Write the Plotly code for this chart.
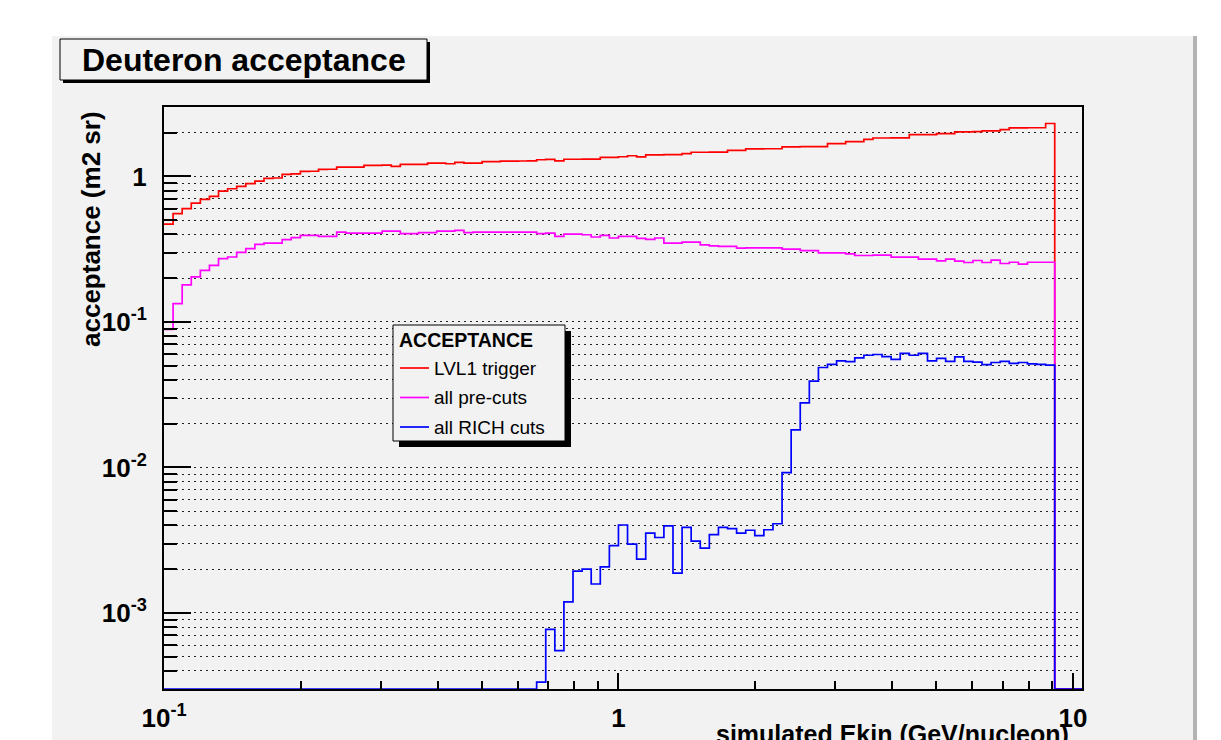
import numpy as np
import plotly.graph_objects as go

# histogram binning: 50 log bins per decade starting at 0.1 GeV/nucleon
E_START = 0.1
BINS_PER_DECADE = 50

lvl1_trigger = [
    0.47, 0.555, 0.60, 0.656, 0.695, 0.729, 0.793, 0.823, 0.854, 0.891,
    0.928, 0.969, 0.975, 1.032, 1.04, 1.082, 1.085, 1.117, 1.12, 1.158,
    1.16, 1.16, 1.19, 1.19, 1.195, 1.171, 1.209, 1.21, 1.21, 1.234,
    1.234, 1.222, 1.248, 1.234, 1.234, 1.262, 1.262, 1.274, 1.274, 1.276,
    1.278, 1.302, 1.308, 1.278, 1.312, 1.312, 1.315, 1.315, 1.35, 1.35,
    1.365, 1.387, 1.361, 1.405, 1.405, 1.41, 1.41, 1.434, 1.466, 1.466,
    1.47, 1.47, 1.508, 1.508, 1.544, 1.544, 1.55, 1.55, 1.594, 1.594,
    1.6, 1.6, 1.6, 1.679, 1.68, 1.734, 1.734, 1.80, 1.837, 1.837,
    1.84, 1.84, 1.939, 1.94, 1.94, 1.97, 1.97, 2.024, 2.024, 2.03,
    2.056, 2.056, 2.099, 2.156, 2.156, 2.16, 2.16, 2.311,
    0, 0, 0, 0,
]

all_precuts = [
    0.0887, 0.1337, 0.180, 0.2037, 0.2263, 0.2449, 0.2723, 0.2793, 0.301, 0.319,
    0.3414, 0.3485, 0.3485, 0.3676, 0.3795, 0.3937, 0.3937, 0.3875, 0.3875, 0.4147,
    0.4082, 0.4082, 0.4082, 0.4082, 0.4213, 0.4213, 0.4044, 0.4044, 0.4108, 0.4108,
    0.4213, 0.4213, 0.426, 0.4108, 0.4147, 0.4147, 0.4147, 0.4147, 0.4147, 0.4147,
    0.4147, 0.4044, 0.4082, 0.3869, 0.4018, 0.4018, 0.3973, 0.3833, 0.3937, 0.3773,
    0.3869, 0.3869, 0.3749, 0.3690, 0.3773, 0.3479, 0.3479, 0.3535, 0.3535, 0.3388,
    0.3334, 0.3303, 0.3303, 0.3215, 0.3230, 0.3230, 0.3230, 0.3230, 0.3164, 0.3164,
    0.3095, 0.3095, 0.2985, 0.2985, 0.2985, 0.2938, 0.2860, 0.2860, 0.2874, 0.2874,
    0.2784, 0.2784, 0.2784, 0.2698, 0.2698, 0.2627, 0.2698, 0.2614, 0.2561, 0.2643,
    0.2561, 0.2656, 0.2521, 0.2572, 0.2493, 0.2572, 0.2572, 0.2572,
    0, 0, 0, 0,
]

all_rich_cuts = [0] * 41 + [
    3.35e-4, 7.7e-4, 5.5e-4, 1.19e-3, 1.94e-3, 2.0e-3, 1.58e-3, 2.07e-3, 2.9e-3,
    4.02e-3, 2.97e-3, 2.34e-3, 3.53e-3, 3.3e-3, 3.97e-3, 1.88e-3, 3.87e-3, 3.11e-3, 2.79e-3,
    3.45e-3, 3.87e-3, 3.8e-3, 3.53e-3, 3.7e-3, 3.4e-3, 3.73e-3, 4.1e-3, 9.2e-3, 0.0181,
    0.0278, 0.0392, 0.0486, 0.051, 0.054, 0.0533, 0.0566, 0.059, 0.0597, 0.0578,
    0.0553, 0.0607, 0.059, 0.0607, 0.054, 0.0561, 0.0535, 0.0575, 0.0535, 0.053,
    0.0508, 0.0526, 0.0535, 0.0519, 0.0526, 0.0515, 0.051, 0.0505,
    0, 0, 0, 0,
]

series_names = ["LVL1 trigger", "all pre-cuts", "all RICH cuts"]
series_colors = ["#ff0000", "#ff00ff", "#0000ff"]

y_major = [1e-3, 1e-2, 1e-1, 1]
y_major_text = ["10<sup>-3</sup>", "10<sup>-2</sup>", "10<sup>-1</sup>", "1"]
x_major = [0.1, 1, 10]
x_major_text = ["10<sup>-1</sup>", "1", "10"]

Y_RANGE = [np.log10(3e-4), np.log10(3.0)]
X_RANGE = [-1.0, 1.02]

# the page body adds an 8px margin, so work in screen pixels and shift
OFF = 8
W, H = 1221 - OFF, 740 - OFF
# plot area in screen pixels
L, R, T, B = 164, 1082, 107, 689


def px(x):
    return (x - L) / (R - L)


def py(y):
    return (B - y) / (B - T)


nbins = len(lvl1_trigger)
edges = E_START * 10 ** (np.arange(nbins + 1) / BINS_PER_DECADE)
floor = 10 ** Y_RANGE[0]

fig = go.Figure()
for name, vals, col in zip(series_names, [lvl1_trigger, all_precuts, all_rich_cuts], series_colors):
    v = np.maximum(np.array(vals, dtype=float), floor)
    fig.add_trace(go.Scatter(
        x=edges,
        y=np.append(v, v[-1]),
        mode="lines",
        line=dict(color=col, width=1.7, shape="hv"),
        name=name,
        showlegend=False,
    ))

minor_y = [m * 10.0 ** e for e in range(-4, 1) for m in range(2, 10)]
minor_x = [m * 10.0 ** e for e in range(-1, 2) for m in range(2, 10)]

PAD = "#f2f2f2"
FONT = "Liberation Sans, Arial, sans-serif"

fig.update_layout(
    width=W,
    height=H,
    margin=dict(l=L - OFF, r=1221 - R, t=T - OFF, b=740 - B),
    paper_bgcolor="white",
    plot_bgcolor=PAD,
    font=dict(family=FONT, color="black"),
    showlegend=False,
    xaxis=dict(
        type="log",
        range=X_RANGE,
        automargin=False,
        showgrid=False,
        zeroline=False,
        showline=True,
        linecolor="black",
        linewidth=2,
        mirror=True,
        ticks="inside",
        ticklen=16,
        tickwidth=1.5,
        tickcolor="black",
        tickvals=x_major,
        ticktext=x_major_text,
        tickfont=dict(family=FONT, size=26, weight="bold", color="black"),
        ticklabelstandoff=5,
        minor=dict(tickvals=minor_x, ticks="inside", ticklen=8, tickwidth=1.5,
                   tickcolor="black", showgrid=False),
    ),
    yaxis=dict(
        type="log",
        range=Y_RANGE,
        automargin=False,
        showgrid=True,
        gridcolor="#222222",
        gridwidth=1,
        griddash="2px,4px",
        zeroline=False,
        showline=True,
        linecolor="black",
        linewidth=2,
        mirror=True,
        ticks="inside",
        ticklen=27,
        tickwidth=1.5,
        tickcolor="black",
        tickvals=y_major,
        ticktext=y_major_text,
        tickfont=dict(family=FONT, size=26, weight="bold", color="black"),
        ticklabelstandoff=10,
        minor=dict(tickvals=minor_y, ticks="inside", ticklen=13, tickwidth=1.5,
                   tickcolor="black", showgrid=True, gridcolor="#222222",
                   gridwidth=1, griddash="2px,4px"),
    ),
)

shapes = [
    # canvas pad
    dict(type="rect", xref="paper", yref="paper", x0=px(52), x1=px(1193), y0=py(36), y1=py(760),
         fillcolor=PAD, line=dict(width=0), layer="below"),
    dict(type="rect", xref="paper", yref="paper", x0=px(1193), x1=px(1197), y0=py(36), y1=py(760),
         fillcolor="#b4b4b4", line=dict(width=0), layer="below"),
    # title box
    dict(type="rect", xref="paper", yref="paper", x0=px(63), x1=px(430), y0=py(42), y1=py(83),
         fillcolor="black", line=dict(width=0), layer="above"),
    dict(type="rect", xref="paper", yref="paper", x0=px(60), x1=px(427), y0=py(39), y1=py(80),
         fillcolor=PAD, line=dict(color="black", width=1), layer="above"),
    # legend box
    dict(type="rect", xref="paper", yref="paper", x0=px(399), x1=px(571), y0=py(331), y1=py(447),
         fillcolor="black", line=dict(width=0), layer="above"),
    dict(type="rect", xref="paper", yref="paper", x0=px(393), x1=px(565), y0=py(325), y1=py(441),
         fillcolor=PAD, line=dict(color="black", width=1), layer="above"),
]

annotations = [
    dict(text="<b>Deuteron acceptance</b>", x=px(243.5), y=py(60), xref="paper", yref="paper",
         showarrow=False, xanchor="center", yanchor="middle",
         font=dict(family=FONT, size=32, color="black")),
    dict(text="<b>acceptance (m2 sr)</b>", x=px(91), y=py(229), xref="paper", yref="paper",
         showarrow=False, xanchor="center", yanchor="middle", textangle=-90,
         font=dict(family=FONT, size=26, color="black")),
    dict(text="<b>simulated Ekin (GeV/nucleon)</b>", x=px(1071), y=py(734), xref="paper", yref="paper",
         showarrow=False, xanchor="right", yanchor="middle",
         font=dict(family=FONT, size=25, color="black")),
    dict(text="<b>ACCEPTANCE</b>", x=px(397), y=py(340), xref="paper", yref="paper",
         showarrow=False, xanchor="left", yanchor="middle",
         font=dict(family=FONT, size=19.5, color="black")),
]

for i, (name, col) in enumerate(zip(series_names, series_colors)):
    yy = 368 + i * 29.5
    shapes.append(dict(type="line", xref="paper", yref="paper", x0=px(400), x1=px(429),
                       y0=py(yy), y1=py(yy), line=dict(color=col, width=1.7), layer="above"))
    annotations.append(dict(text=name, x=px(432), y=py(yy), xref="paper", yref="paper",
                            showarrow=False, xanchor="left", yanchor="middle",
                            font=dict(family=FONT, size=19, color="black")))

fig.update_layout(shapes=shapes, annotations=annotations)

fig.write_html("out.html")
